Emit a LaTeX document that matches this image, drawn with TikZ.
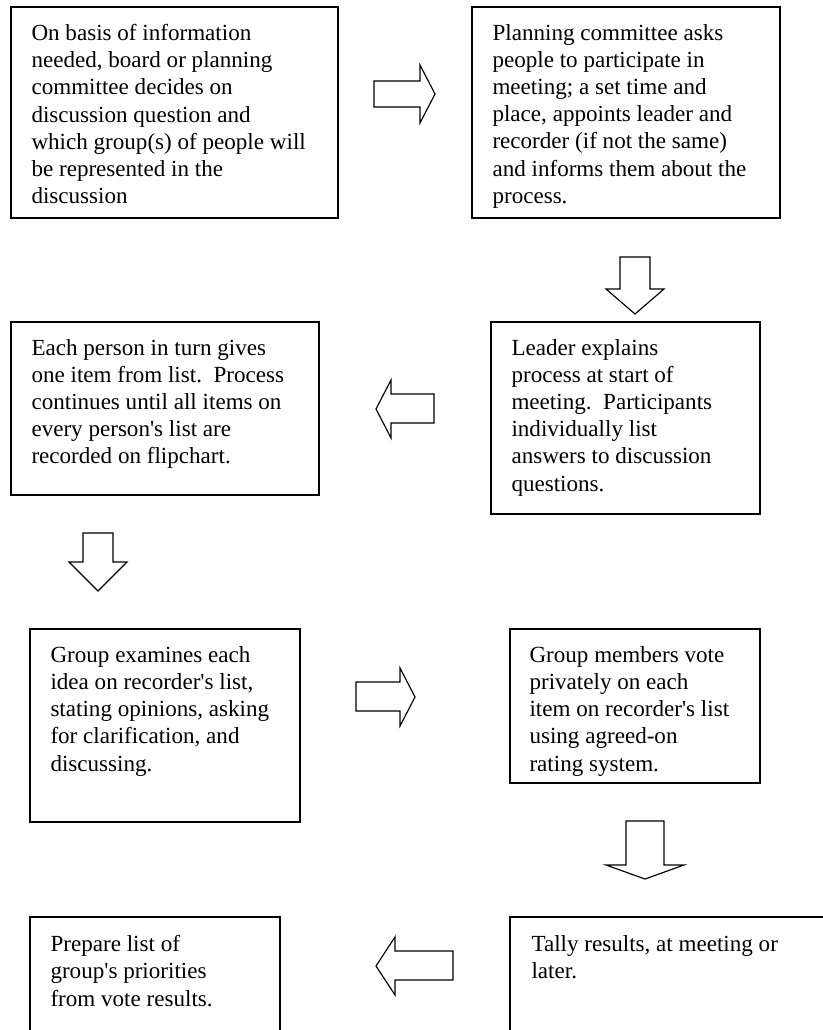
\documentclass[tikz,border=0pt]{standalone}
\usepackage{fontspec}
\setmainfont{Liberation Serif}
\usepackage{tikz}
\usetikzlibrary{fit}

\begin{document}
\begin{tikzpicture}[x=0.52pt, y=-0.52pt,
    box/.style={draw, line width=0.9pt, inner sep=0pt},
    txt/.style={anchor=north west, inner sep=0pt, align=left, font=\fontsize{12}{14.1}\selectfont},
    blockarrow/.style={draw, line width=0.6pt, line join=miter, fill=white}]
  \useasboundingbox (0,0) rectangle (823,1030);
  \clip (0,0) rectangle (823,1030);

  % Boxes
  \node[box, fit={(11,7) (338,218)}] (basis) {};
  \node[box, fit={(472,7) (780,218)}] (plan) {};
  \node[box, fit={(491,322) (760,514)}] (leader) {};
  \node[box, fit={(11,322) (319,495)}] (turn) {};
  \node[box, fit={(30,629) (300,822)}] (examine) {};
  \node[box, fit={(510,629) (760,783)}] (vote) {};
  \node[box, fit={(30,917) (280,1040)}] (prepare) {};
  \node[box, fit={(510,917) (830,1040)}] (tally) {};

  % Texts
  \node[txt] (basistxt) at ([shift={(21,18)}]basis.north west) {On basis of information\\needed, board or planning\\committee decides on\\discussion question and\\which group(s) of people will\\be represented in the\\discussion};
  \node[txt] (plantxt) at ([shift={(21,18)}]plan.north west) {Planning committee asks\\people to participate in\\meeting; a set time and\\place, appoints leader and\\recorder (if not the same)\\and informs them about the\\process.};
  \node[txt] (leadertxt) at ([shift={(21,18)}]leader.north west) {Leader explains\\process at start of\\meeting.\ \ Participants\\individually list\\answers to discussion\\questions.};
  \node[txt] (turntxt) at ([shift={(21,18)}]turn.north west) {Each person in turn gives\\one item from list.\ \ Process\\continues until all items on\\every person\textquotesingle s list are\\recorded on flipchart.};
  \node[txt] (examinetxt) at ([shift={(21,18)}]examine.north west) {Group examines each\\idea on recorder\textquotesingle s list,\\stating opinions, asking\\for clarification, and\\discussing.};
  \node[txt] (votetxt) at ([shift={(20,18)}]vote.north west) {Group members vote\\privately on each\\item on recorder\textquotesingle s list\\using agreed-on\\rating system.};
  \node[txt] (preparetxt) at ([shift={(21,19)}]prepare.north west) {Prepare list of\\group\textquotesingle s priorities\\from vote results.};
  \node[txt] (tallytxt) at ([shift={(22,19)}]tally.north west) {Tally results, at meeting or\\later.};

  % Block arrows
  \draw[blockarrow] (374,81) -- (420,81) -- (420,65) -- (435,94) -- (420,123) -- (420,107) -- (374,107) -- cycle;
  \draw[blockarrow] (620,257) -- (650,257) -- (650,289) -- (664,289) -- (635,314) -- (606,289) -- (620,289) -- cycle;
  \draw[blockarrow] (434,394) -- (391,394) -- (391,380) -- (376,409) -- (391,438) -- (391,423) -- (434,423) -- cycle;
  \draw[blockarrow] (83,533) -- (113,533) -- (113,562) -- (127,562) -- (98,591) -- (69,562) -- (83,562) -- cycle;
  \draw[blockarrow] (356,682) -- (400,682) -- (400,668) -- (415,697) -- (400,726) -- (400,711) -- (356,711) -- cycle;
  \draw[blockarrow] (626,821) -- (664,821) -- (664,865) -- (684,865) -- (645,879) -- (606,865) -- (626,865) -- cycle;
  \draw[blockarrow] (453,951) -- (395,951) -- (395,937) -- (376,966) -- (395,995) -- (395,980) -- (453,980) -- cycle;
\end{tikzpicture}
\end{document}
